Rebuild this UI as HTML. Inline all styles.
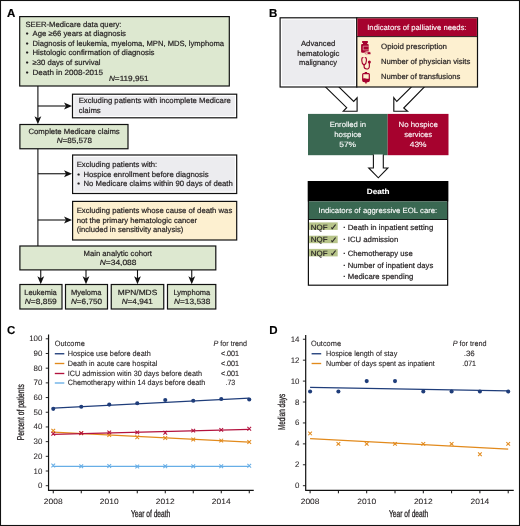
<!DOCTYPE html>
<html lang="en"><head><meta charset="utf-8"><title>Figure</title>
<style>
html,body{margin:0;padding:0;background:#fff;}
body{width:520px;height:526px;overflow:hidden;}
svg{display:block;font-family:"Liberation Sans",sans-serif;text-rendering:geometricPrecision;}
</style></head><body>
<svg width="520" height="526" viewBox="0 0 520 526">
<rect x="0.5" y="0.5" width="519" height="525" fill="#fff" stroke="#111" stroke-width="1.1"/>
<text x="6.90" y="17.00" font-size="11.5" fill="#000" stroke="#000" stroke-width="0.2" font-weight="bold">A</text>
<path d="M37.90 86.00V120.20" stroke="#111" stroke-width="1.1" fill="none"/>
<path d="M37.90 124.20L34.50 116.20L37.90 118.20L41.30 116.20Z" fill="#111"/>
<path d="M37.90 106.00H68.00" stroke="#111" stroke-width="1.1" fill="none"/>
<path d="M72.00 106.00L64.00 102.60L66.00 106.00L64.00 109.40Z" fill="#111"/>
<path d="M37.9 148.75V246" stroke="#111" stroke-width="1.1" fill="none"/>
<path d="M37.90 173.75H68.00" stroke="#111" stroke-width="1.1" fill="none"/>
<path d="M72.00 173.75L64.00 170.35L66.00 173.75L64.00 177.15Z" fill="#111"/>
<path d="M37.90 220.00H68.00" stroke="#111" stroke-width="1.1" fill="none"/>
<path d="M72.00 220.00L64.00 216.60L66.00 220.00L64.00 223.40Z" fill="#111"/>
<path d="M40.75 270.00V280.30" stroke="#111" stroke-width="1.1" fill="none"/>
<path d="M40.75 284.30L37.35 276.30L40.75 278.30L44.15 276.30Z" fill="#111"/>
<path d="M86.00 270.00V280.30" stroke="#111" stroke-width="1.1" fill="none"/>
<path d="M86.00 284.30L82.60 276.30L86.00 278.30L89.40 276.30Z" fill="#111"/>
<path d="M137.50 270.00V280.30" stroke="#111" stroke-width="1.1" fill="none"/>
<path d="M137.50 284.30L134.10 276.30L137.50 278.30L140.90 276.30Z" fill="#111"/>
<path d="M191.75 270.00V280.30" stroke="#111" stroke-width="1.1" fill="none"/>
<path d="M191.75 284.30L188.35 276.30L191.75 278.30L195.15 276.30Z" fill="#111"/>
<rect x="19.70" y="16.60" width="209.60" height="69.40" fill="#dde8d0" stroke="#111" stroke-width="1.2"/>
<text x="25.48" y="26.75" font-size="7.65" fill="#231f20" stroke="#231f20" stroke-width="0.2" textLength="96.04" lengthAdjust="spacingAndGlyphs">SEER-Medicare data query:</text>
<text x="25.75" y="36.25" font-size="7.65" fill="#231f20" stroke="#231f20" stroke-width="0.2">•</text>
<text x="32.48" y="36.25" font-size="7.65" fill="#231f20" stroke="#231f20" stroke-width="0.2" textLength="93.54" lengthAdjust="spacingAndGlyphs">Age ≥66 years at diagnosis</text>
<text x="25.75" y="45.75" font-size="7.65" fill="#231f20" stroke="#231f20" stroke-width="0.2">•</text>
<text x="32.48" y="45.75" font-size="7.65" fill="#231f20" stroke="#231f20" stroke-width="0.2" textLength="191.54" lengthAdjust="spacingAndGlyphs">Diagnosis of leukemia, myeloma, MPN, MDS, lymphoma</text>
<text x="25.75" y="55.40" font-size="7.65" fill="#231f20" stroke="#231f20" stroke-width="0.2">•</text>
<text x="32.48" y="55.40" font-size="7.65" fill="#231f20" stroke="#231f20" stroke-width="0.2" textLength="122.04" lengthAdjust="spacingAndGlyphs">Histologic confirmation of diagnosis</text>
<text x="25.75" y="65.00" font-size="7.65" fill="#231f20" stroke="#231f20" stroke-width="0.2">•</text>
<text x="32.48" y="65.00" font-size="7.65" fill="#231f20" stroke="#231f20" stroke-width="0.2" textLength="68.04" lengthAdjust="spacingAndGlyphs">≥30 days of survival</text>
<text x="25.75" y="74.50" font-size="7.65" fill="#231f20" stroke="#231f20" stroke-width="0.2">•</text>
<text x="32.48" y="74.50" font-size="7.65" fill="#231f20" stroke="#231f20" stroke-width="0.2" textLength="70.54" lengthAdjust="spacingAndGlyphs">Death in 2008-2015</text>
<text x="108.98" y="81.25" font-size="7.65" fill="#231f20" stroke="#231f20" stroke-width="0.2" textLength="39.54" lengthAdjust="spacingAndGlyphs"><tspan font-style="italic">N</tspan>=119,951</text>
<rect x="72.50" y="94.20" width="164.20" height="23.60" fill="#fff" stroke="#111" stroke-width="1.2"/>
<rect x="74.40" y="96.10" width="160.40" height="19.80" fill="#ececef"/>
<text x="78.73" y="103.25" font-size="7.65" fill="#231f20" stroke="#231f20" stroke-width="0.2" textLength="152.04" lengthAdjust="spacingAndGlyphs">Excluding patients with incomplete Medicare</text>
<text x="78.73" y="112.60" font-size="7.65" fill="#231f20" stroke="#231f20" stroke-width="0.2" textLength="22.04" lengthAdjust="spacingAndGlyphs">claims</text>
<rect x="19.90" y="124.50" width="108.10" height="24.25" fill="#dde8d0" stroke="#111" stroke-width="1.2"/>
<text x="28.48" y="134.20" font-size="7.65" fill="#231f20" stroke="#231f20" stroke-width="0.2" textLength="91.29" lengthAdjust="spacingAndGlyphs">Complete Medicare claims</text>
<text x="56.73" y="143.40" font-size="7.65" fill="#231f20" stroke="#231f20" stroke-width="0.2" textLength="35.29" lengthAdjust="spacingAndGlyphs"><tspan font-style="italic">N</tspan>=85,578</text>
<rect x="72.60" y="155.00" width="164.10" height="38.50" fill="#fff" stroke="#111" stroke-width="1.2"/>
<rect x="74.50" y="156.90" width="160.30" height="34.70" fill="#ececef"/>
<text x="76.73" y="166.75" font-size="7.65" fill="#231f20" stroke="#231f20" stroke-width="0.2" textLength="80.54" lengthAdjust="spacingAndGlyphs">Excluding patients with:</text>
<text x="77.30" y="176.60" font-size="7.65" fill="#231f20" stroke="#231f20" stroke-width="0.2">•</text>
<text x="83.48" y="176.60" font-size="7.65" fill="#231f20" stroke="#231f20" stroke-width="0.2" textLength="125.04" lengthAdjust="spacingAndGlyphs">Hospice enrollment before diagnosis</text>
<text x="77.30" y="186.00" font-size="7.65" fill="#231f20" stroke="#231f20" stroke-width="0.2">•</text>
<text x="83.48" y="186.00" font-size="7.65" fill="#231f20" stroke="#231f20" stroke-width="0.2" textLength="149.29" lengthAdjust="spacingAndGlyphs">No Medicare claims within 90 days of death</text>
<rect x="72.60" y="201.40" width="164.10" height="38.60" fill="#fdf0d0" stroke="#111" stroke-width="1.2"/>
<text x="76.73" y="213.25" font-size="7.65" fill="#231f20" stroke="#231f20" stroke-width="0.2" textLength="155.54" lengthAdjust="spacingAndGlyphs">Excluding patients whose cause of death was</text>
<text x="76.73" y="222.60" font-size="7.65" fill="#231f20" stroke="#231f20" stroke-width="0.2" textLength="120.29" lengthAdjust="spacingAndGlyphs">not the primary hematologic cancer</text>
<text x="76.73" y="232.30" font-size="7.65" fill="#231f20" stroke="#231f20" stroke-width="0.2" textLength="106.54" lengthAdjust="spacingAndGlyphs">(included in sensitivity analysis)</text>
<rect x="19.90" y="246.00" width="195.90" height="23.90" fill="#dde8d0" stroke="#111" stroke-width="1.2"/>
<text x="83.48" y="255.50" font-size="7.65" fill="#231f20" stroke="#231f20" stroke-width="0.2" textLength="68.54" lengthAdjust="spacingAndGlyphs">Main analytic cohort</text>
<text x="99.73" y="265.00" font-size="7.65" fill="#231f20" stroke="#231f20" stroke-width="0.2" textLength="36.79" lengthAdjust="spacingAndGlyphs"><tspan font-style="italic">N</tspan>=34,088</text>
<rect x="19.90" y="284.50" width="42.10" height="24.50" fill="#dde8d0" stroke="#111" stroke-width="1.2"/>
<text x="24.23" y="294.60" font-size="7.65" fill="#231f20" stroke="#231f20" stroke-width="0.2" textLength="32.54" lengthAdjust="spacingAndGlyphs">Leukemia</text>
<text x="24.73" y="304.00" font-size="7.65" fill="#231f20" stroke="#231f20" stroke-width="0.2" textLength="32.04" lengthAdjust="spacingAndGlyphs"><tspan font-style="italic">N</tspan>=8,859</text>
<rect x="65.50" y="284.50" width="42.00" height="24.50" fill="#dde8d0" stroke="#111" stroke-width="1.2"/>
<text x="70.98" y="294.60" font-size="7.65" fill="#231f20" stroke="#231f20" stroke-width="0.2" textLength="30.54" lengthAdjust="spacingAndGlyphs">Myeloma</text>
<text x="70.98" y="304.00" font-size="7.65" fill="#231f20" stroke="#231f20" stroke-width="0.2" textLength="31.04" lengthAdjust="spacingAndGlyphs"><tspan font-style="italic">N</tspan>=6,750</text>
<rect x="111.25" y="284.50" width="52.50" height="24.50" fill="#dde8d0" stroke="#111" stroke-width="1.2"/>
<text x="117.73" y="294.60" font-size="7.65" fill="#231f20" stroke="#231f20" stroke-width="0.2" textLength="39.54" lengthAdjust="spacingAndGlyphs">MPN/MDS</text>
<text x="121.73" y="304.00" font-size="7.65" fill="#231f20" stroke="#231f20" stroke-width="0.2" textLength="31.04" lengthAdjust="spacingAndGlyphs"><tspan font-style="italic">N</tspan>=4,941</text>
<rect x="167.50" y="284.50" width="48.30" height="24.50" fill="#dde8d0" stroke="#111" stroke-width="1.2"/>
<text x="173.48" y="294.60" font-size="7.65" fill="#231f20" stroke="#231f20" stroke-width="0.2" textLength="36.79" lengthAdjust="spacingAndGlyphs">Lymphoma</text>
<text x="173.98" y="304.00" font-size="7.65" fill="#231f20" stroke="#231f20" stroke-width="0.2" textLength="36.29" lengthAdjust="spacingAndGlyphs"><tspan font-style="italic">N</tspan>=13,538</text>
<text x="269.10" y="17.00" font-size="11.5" fill="#000" stroke="#000" stroke-width="0.2" font-weight="bold">B</text>
<path d="M324.4 85.8L346.7 107.7L343.3 111.2H357.1V97.8L353.7 101.4L337.8 85.8" fill="#fff" stroke="#111" stroke-width="1.15" stroke-linejoin="miter"/>
<path d="M425.65 85.6L403.75 108L407.5 111.2H393.8V97.7L396.8 101.5L412.7 85.6" fill="#fff" stroke="#111" stroke-width="1.15" stroke-linejoin="miter"/>
<rect x="280.10" y="17.80" width="76.70" height="69.20" fill="#fff" stroke="#111" stroke-width="1.2"/>
<rect x="282.00" y="19.70" width="72.90" height="65.40" fill="#ececef"/>
<text x="300.98" y="46.00" font-size="7.65" fill="#231f20" stroke="#231f20" stroke-width="0.2" textLength="34.29" lengthAdjust="spacingAndGlyphs">Advanced</text>
<text x="297.23" y="55.50" font-size="7.65" fill="#231f20" stroke="#231f20" stroke-width="0.2" textLength="42.29" lengthAdjust="spacingAndGlyphs">hematologic</text>
<text x="298.98" y="65.00" font-size="7.65" fill="#231f20" stroke="#231f20" stroke-width="0.2" textLength="38.04" lengthAdjust="spacingAndGlyphs">malignancy</text>
<rect x="356.80" y="17.80" width="120.70" height="69.20" fill="#fdf0d0" stroke="#111" stroke-width="1.2"/>
<rect x="357.4" y="18.4" width="119.5" height="17.9" fill="#a6022e"/>
<path d="M356.8 36.6H477.5" stroke="#111" stroke-width="0.9"/>
<text x="367.23" y="29.50" font-size="7.65" fill="#fff" stroke="#fff" stroke-width="0.1" textLength="99.29" lengthAdjust="spacingAndGlyphs">Indicators of palliative needs:</text>
<text x="380.98" y="49.30" font-size="7.65" fill="#231f20" stroke="#231f20" stroke-width="0.2" textLength="66.04" lengthAdjust="spacingAndGlyphs">Opioid prescription</text>
<text x="380.98" y="64.20" font-size="7.65" fill="#231f20" stroke="#231f20" stroke-width="0.2" textLength="89.29" lengthAdjust="spacingAndGlyphs">Number of physician visits</text>
<text x="380.98" y="78.80" font-size="7.65" fill="#231f20" stroke="#231f20" stroke-width="0.2" textLength="79.29" lengthAdjust="spacingAndGlyphs">Number of transfusions</text>
<g fill="#a6022e" stroke="none">
<rect x="362.1" y="40.9" width="5.8" height="2" rx="0.4"/>
<rect x="363" y="42.8" width="4.2" height="1.4"/>
<rect x="361.1" y="43.9" width="7.6" height="8.9" rx="1.1"/>
<path d="M368.7 46.2H363.2V49.9H368.7" fill="none" stroke="#f0c8b8" stroke-width="0.6"/>
<rect x="364.9" y="51.7" width="6.1" height="2.9" rx="1.45" stroke="#fdf0d0" stroke-width="0.7"/>
<path d="M367.6 52.2h-1.2a0.95 0.95 0 0 0 0 1.9h1.2z" fill="#f0c8b8"/>
</g>
<g fill="none" stroke="#a6022e" stroke-width="1.15" stroke-linecap="round">
<path d="M363 57.6q-1.2 0-1.2 1.3v1.8q0 3 2.3 4.4q2.3-1.4 2.3-4.4v-1.8q0-1.3-1.2-1.3"/>
<path d="M364.1 65v1.6a2.62 2.4 0 0 0 5.25 0v-3.4"/>
<circle cx="369.35" cy="62.1" r="1.5" fill="#a6022e" stroke="none"/>
</g>
<g fill="#a6022e">
<rect x="364.7" y="72" width="2.4" height="1.6"/>
<rect x="365.2" y="81.8" width="1.5" height="1.7"/>
<path d="M363.4 73.7h5.2a.7 .7 0 0 1 .7 .7v5.6a1.7 1.7 0 0 1-1.7 1.7h-3.2a1.7 1.7 0 0 1-1.7-1.7v-5.6a.7 .7 0 0 1 .7-.7z" fill="#fdf0d0" stroke="#a6022e" stroke-width="1.2"/>
<path d="M362.7 78.4q1.6-0.5 3.3 0t3.3 0v2.2q0 1.1-1.1 1.1h-4.4q-1.1 0-1.1-1.1z"/>
</g>
<rect x="308" y="113.9" width="79.7" height="41.3" fill="#3a6852"/>
<rect x="387.7" y="113.9" width="60.8" height="41.3" fill="#a6022e"/>
<text x="329.73" y="127.00" font-size="7.65" fill="#fff" stroke="#fff" stroke-width="0.1" textLength="36.29" lengthAdjust="spacingAndGlyphs">Enrolled in</text>
<text x="334.23" y="136.75" font-size="7.65" fill="#fff" stroke="#fff" stroke-width="0.1" textLength="27.29" lengthAdjust="spacingAndGlyphs">hospice</text>
<text x="339.23" y="146.50" font-size="7.65" fill="#fff" stroke="#fff" stroke-width="0.1" textLength="16.79" lengthAdjust="spacingAndGlyphs">57%</text>
<text x="398.48" y="127.00" font-size="7.65" fill="#fff" stroke="#fff" stroke-width="0.1" textLength="39.29" lengthAdjust="spacingAndGlyphs">No hospice</text>
<text x="404.23" y="136.75" font-size="7.65" fill="#fff" stroke="#fff" stroke-width="0.1" textLength="27.79" lengthAdjust="spacingAndGlyphs">services</text>
<text x="409.73" y="146.50" font-size="7.65" fill="#fff" stroke="#fff" stroke-width="0.1" textLength="16.79" lengthAdjust="spacingAndGlyphs">43%</text>
<path d="M373.4 154.6V168H368.7L378.3 177.8L387.9 168H383.3V154.6" fill="#fff" stroke="#111" stroke-width="1.1"/>
<rect x="308.40" y="181.60" width="139.25" height="103.60" fill="#fff" stroke="#111" stroke-width="1.2"/>
<rect x="307.85" y="181" width="140.35" height="20.4" fill="#000"/>
<rect x="308.9" y="201.4" width="138.2" height="17.7" fill="#3a6852"/>
<path d="M308.4 219.5H447.65" stroke="#111" stroke-width="1.1"/>
<text x="366.73" y="193.75" font-size="7.65" fill="#fff" stroke="#fff" stroke-width="0.1" font-weight="bold" textLength="22.79" lengthAdjust="spacingAndGlyphs">Death</text>
<text x="318.48" y="213.00" font-size="7.65" fill="#fff" stroke="#fff" stroke-width="0.1" textLength="118.79" lengthAdjust="spacingAndGlyphs">Indicators of aggressive EOL care:</text>
<rect x="309" y="222.4" width="28.7" height="7.5" fill="#b7c48a"/>
<text x="310.83" y="229.60" font-size="7.65" fill="#231f20" stroke="#231f20" stroke-width="0.2" textLength="16.74" lengthAdjust="spacingAndGlyphs">NQF</text>
<text x="330.10" y="229.90" font-size="8.6" fill="#231f20" stroke="#231f20" stroke-width="0.2" textLength="7.40" lengthAdjust="spacingAndGlyphs">✓</text>
<text x="343.30" y="229.60" font-size="7.65" fill="#231f20" stroke="#231f20" stroke-width="0.2" font-weight="bold">·</text>
<text x="347.73" y="229.60" font-size="7.65" fill="#231f20" stroke="#231f20" stroke-width="0.2" textLength="85.54" lengthAdjust="spacingAndGlyphs">Death in inpatient setting</text>
<rect x="309" y="235.7" width="28.7" height="7.5" fill="#b7c48a"/>
<text x="310.83" y="242.40" font-size="7.65" fill="#231f20" stroke="#231f20" stroke-width="0.2" textLength="16.74" lengthAdjust="spacingAndGlyphs">NQF</text>
<text x="330.10" y="242.70" font-size="8.6" fill="#231f20" stroke="#231f20" stroke-width="0.2" textLength="7.40" lengthAdjust="spacingAndGlyphs">✓</text>
<text x="343.30" y="242.40" font-size="7.65" fill="#231f20" stroke="#231f20" stroke-width="0.2" font-weight="bold">·</text>
<text x="347.73" y="242.40" font-size="7.65" fill="#231f20" stroke="#231f20" stroke-width="0.2" textLength="50.54" lengthAdjust="spacingAndGlyphs">ICU admission</text>
<rect x="309" y="248.9" width="28.7" height="7.5" fill="#b7c48a"/>
<text x="310.83" y="255.60" font-size="7.65" fill="#231f20" stroke="#231f20" stroke-width="0.2" textLength="16.74" lengthAdjust="spacingAndGlyphs">NQF</text>
<text x="330.10" y="255.90" font-size="8.6" fill="#231f20" stroke="#231f20" stroke-width="0.2" textLength="7.40" lengthAdjust="spacingAndGlyphs">✓</text>
<text x="343.30" y="255.60" font-size="7.65" fill="#231f20" stroke="#231f20" stroke-width="0.2" font-weight="bold">·</text>
<text x="347.73" y="255.60" font-size="7.65" fill="#231f20" stroke="#231f20" stroke-width="0.2" textLength="65.04" lengthAdjust="spacingAndGlyphs">Chemotherapy use</text>
<text x="343.30" y="267.60" font-size="7.65" fill="#231f20" stroke="#231f20" stroke-width="0.2" font-weight="bold">·</text>
<text x="347.73" y="267.60" font-size="7.65" fill="#231f20" stroke="#231f20" stroke-width="0.2" textLength="85.54" lengthAdjust="spacingAndGlyphs">Number of inpatient days</text>
<text x="343.30" y="279.40" font-size="7.65" fill="#231f20" stroke="#231f20" stroke-width="0.2" font-weight="bold">·</text>
<text x="347.73" y="279.40" font-size="7.65" fill="#231f20" stroke="#231f20" stroke-width="0.2" textLength="65.54" lengthAdjust="spacingAndGlyphs">Medicare spending</text>
<text x="6.90" y="334.00" font-size="11.5" fill="#000" stroke="#000" stroke-width="0.1" font-weight="bold">C</text>
<path d="M48.55 334.50V490.4H253.75" stroke="#111" stroke-width="1.2" fill="none"/>
<path d="M45.75 485.70H48.55" stroke="#111" stroke-width="0.9"/>
<text x="42.35" y="488.20" font-size="7.9" fill="#231f20" stroke="#231f20" stroke-width="0.06" text-anchor="end">0</text>
<path d="M45.75 471.01H48.55" stroke="#111" stroke-width="0.9"/>
<text x="42.35" y="473.51" font-size="7.9" fill="#231f20" stroke="#231f20" stroke-width="0.06" text-anchor="end">10</text>
<path d="M45.75 456.32H48.55" stroke="#111" stroke-width="0.9"/>
<text x="42.35" y="458.82" font-size="7.9" fill="#231f20" stroke="#231f20" stroke-width="0.06" text-anchor="end">20</text>
<path d="M45.75 441.63H48.55" stroke="#111" stroke-width="0.9"/>
<text x="42.35" y="444.13" font-size="7.9" fill="#231f20" stroke="#231f20" stroke-width="0.06" text-anchor="end">30</text>
<path d="M45.75 426.94H48.55" stroke="#111" stroke-width="0.9"/>
<text x="42.35" y="429.44" font-size="7.9" fill="#231f20" stroke="#231f20" stroke-width="0.06" text-anchor="end">40</text>
<path d="M45.75 412.25H48.55" stroke="#111" stroke-width="0.9"/>
<text x="42.35" y="414.75" font-size="7.9" fill="#231f20" stroke="#231f20" stroke-width="0.06" text-anchor="end">50</text>
<path d="M45.75 397.56H48.55" stroke="#111" stroke-width="0.9"/>
<text x="42.35" y="400.06" font-size="7.9" fill="#231f20" stroke="#231f20" stroke-width="0.06" text-anchor="end">60</text>
<path d="M45.75 382.87H48.55" stroke="#111" stroke-width="0.9"/>
<text x="42.35" y="385.37" font-size="7.9" fill="#231f20" stroke="#231f20" stroke-width="0.06" text-anchor="end">70</text>
<path d="M45.75 368.18H48.55" stroke="#111" stroke-width="0.9"/>
<text x="42.35" y="370.68" font-size="7.9" fill="#231f20" stroke="#231f20" stroke-width="0.06" text-anchor="end">80</text>
<path d="M45.75 353.49H48.55" stroke="#111" stroke-width="0.9"/>
<text x="42.35" y="355.99" font-size="7.9" fill="#231f20" stroke="#231f20" stroke-width="0.06" text-anchor="end">90</text>
<path d="M45.75 338.80H48.55" stroke="#111" stroke-width="0.9"/>
<text x="42.35" y="341.30" font-size="7.9" fill="#231f20" stroke="#231f20" stroke-width="0.06" text-anchor="end">100</text>
<path d="M53.25 490.4V493.3" stroke="#111" stroke-width="1"/>
<text x="43.88" y="503.80" font-size="7.8" fill="#231f20" stroke="#231f20" stroke-width="0.06" textLength="18.75" lengthAdjust="spacingAndGlyphs">2008</text>
<path d="M81.25 490.4V493.3" stroke="#111" stroke-width="1"/>
<path d="M109.25 490.4V493.3" stroke="#111" stroke-width="1"/>
<text x="99.88" y="503.80" font-size="7.8" fill="#231f20" stroke="#231f20" stroke-width="0.06" textLength="18.75" lengthAdjust="spacingAndGlyphs">2010</text>
<path d="M137.25 490.4V493.3" stroke="#111" stroke-width="1"/>
<path d="M165.25 490.4V493.3" stroke="#111" stroke-width="1"/>
<text x="155.88" y="503.80" font-size="7.8" fill="#231f20" stroke="#231f20" stroke-width="0.06" textLength="18.75" lengthAdjust="spacingAndGlyphs">2012</text>
<path d="M193.25 490.4V493.3" stroke="#111" stroke-width="1"/>
<path d="M221.25 490.4V493.3" stroke="#111" stroke-width="1"/>
<text x="211.88" y="503.80" font-size="7.8" fill="#231f20" stroke="#231f20" stroke-width="0.06" textLength="18.75" lengthAdjust="spacingAndGlyphs">2014</text>
<path d="M249.25 490.4V493.3" stroke="#111" stroke-width="1"/>
<path d="M53.25 466.38L249.25 466.38" stroke="#67aee6" stroke-width="1.05" fill="none"/>
<path d="M51.40 463.58L55.10 467.28M51.40 467.28L55.10 463.58" stroke="#67aee6" stroke-width="1.05" fill="none"/>
<path d="M79.40 464.46L83.10 468.16M79.40 468.16L83.10 464.46" stroke="#67aee6" stroke-width="1.05" fill="none"/>
<path d="M107.40 464.17L111.10 467.87M107.40 467.87L111.10 464.17" stroke="#67aee6" stroke-width="1.05" fill="none"/>
<path d="M135.40 464.61L139.10 468.31M135.40 468.31L139.10 464.61" stroke="#67aee6" stroke-width="1.05" fill="none"/>
<path d="M163.40 464.46L167.10 468.16M163.40 468.16L167.10 464.46" stroke="#67aee6" stroke-width="1.05" fill="none"/>
<path d="M191.40 464.31L195.10 468.01M191.40 468.01L195.10 464.31" stroke="#67aee6" stroke-width="1.05" fill="none"/>
<path d="M219.40 464.31L223.10 468.01M219.40 468.01L223.10 464.31" stroke="#67aee6" stroke-width="1.05" fill="none"/>
<path d="M247.40 463.87L251.10 467.57M247.40 467.57L251.10 463.87" stroke="#67aee6" stroke-width="1.05" fill="none"/>
<path d="M53.25 432.08L249.25 442.07" stroke="#e28a1c" stroke-width="1.2" fill="none"/>
<path d="M51.40 428.76L55.10 432.46M51.40 432.46L55.10 428.76" stroke="#e28a1c" stroke-width="1.05" fill="none"/>
<path d="M79.40 431.41L83.10 435.11M79.40 435.11L83.10 431.41" stroke="#e28a1c" stroke-width="1.05" fill="none"/>
<path d="M107.40 433.17L111.10 436.87M107.40 436.87L111.10 433.17" stroke="#e28a1c" stroke-width="1.05" fill="none"/>
<path d="M135.40 435.37L139.10 439.07M135.40 439.07L139.10 435.37" stroke="#e28a1c" stroke-width="1.05" fill="none"/>
<path d="M163.40 436.11L167.10 439.81M163.40 439.81L167.10 436.11" stroke="#e28a1c" stroke-width="1.05" fill="none"/>
<path d="M191.40 437.58L195.10 441.28M191.40 441.28L195.10 437.58" stroke="#e28a1c" stroke-width="1.05" fill="none"/>
<path d="M219.40 438.75L223.10 442.45M219.40 442.45L223.10 438.75" stroke="#e28a1c" stroke-width="1.05" fill="none"/>
<path d="M247.40 440.22L251.10 443.92M247.40 443.92L251.10 440.22" stroke="#e28a1c" stroke-width="1.05" fill="none"/>
<path d="M53.25 434.28L249.25 429.29" stroke="#b3123e" stroke-width="1.2" fill="none"/>
<path d="M51.40 431.99L55.10 435.69M51.40 435.69L55.10 431.99" stroke="#b3123e" stroke-width="1.05" fill="none"/>
<path d="M79.40 431.26L83.10 434.96M79.40 434.96L83.10 431.26" stroke="#b3123e" stroke-width="1.05" fill="none"/>
<path d="M107.40 430.53L111.10 434.23M107.40 434.23L111.10 430.53" stroke="#b3123e" stroke-width="1.05" fill="none"/>
<path d="M135.40 430.53L139.10 434.23M135.40 434.23L139.10 430.53" stroke="#b3123e" stroke-width="1.05" fill="none"/>
<path d="M163.40 430.97L167.10 434.67M163.40 434.67L167.10 430.97" stroke="#b3123e" stroke-width="1.05" fill="none"/>
<path d="M191.40 428.76L195.10 432.46M191.40 432.46L195.10 428.76" stroke="#b3123e" stroke-width="1.05" fill="none"/>
<path d="M219.40 428.03L223.10 431.73M219.40 431.73L223.10 428.03" stroke="#b3123e" stroke-width="1.05" fill="none"/>
<path d="M247.40 426.85L251.10 430.55M247.40 430.55L251.10 426.85" stroke="#b3123e" stroke-width="1.05" fill="none"/>
<path d="M53.25 408.14L249.25 398.15" stroke="#1f3d7a" stroke-width="1.2" fill="none"/>
<circle cx="53.25" cy="408.87" r="2.05" fill="#1f3d7a"/>
<circle cx="81.25" cy="406.81" r="2.05" fill="#1f3d7a"/>
<circle cx="109.25" cy="404.61" r="2.05" fill="#1f3d7a"/>
<circle cx="137.25" cy="403.29" r="2.05" fill="#1f3d7a"/>
<circle cx="165.25" cy="400.06" r="2.05" fill="#1f3d7a"/>
<circle cx="193.25" cy="400.79" r="2.05" fill="#1f3d7a"/>
<circle cx="221.25" cy="399.03" r="2.05" fill="#1f3d7a"/>
<circle cx="249.25" cy="399.47" r="2.05" fill="#1f3d7a"/>
<text x="54.73" y="346.25" font-size="7.65" fill="#231f20" stroke="#231f20" stroke-width="0.1" textLength="30.04" lengthAdjust="spacingAndGlyphs">Outcome</text>
<text x="213.48" y="346.25" font-size="7.65" fill="#231f20" stroke="#231f20" stroke-width="0.1" textLength="33.54" lengthAdjust="spacingAndGlyphs"><tspan font-style="italic">P</tspan> for trend</text>
<path d="M54.80 353.75L64.30 353.75" stroke="#1f3d7a" stroke-width="1.35" fill="none"/>
<text x="67.73" y="355.75" font-size="7.65" fill="#231f20" stroke="#231f20" stroke-width="0.1" textLength="83.04" lengthAdjust="spacingAndGlyphs">Hospice use before death</text>
<text x="220.98" y="355.75" font-size="7.65" fill="#231f20" stroke="#231f20" stroke-width="0.1" textLength="18.04" lengthAdjust="spacingAndGlyphs">&lt;.001</text>
<path d="M54.80 363.50L64.30 363.50" stroke="#e28a1c" stroke-width="1.35" fill="none"/>
<text x="67.73" y="365.50" font-size="7.65" fill="#231f20" stroke="#231f20" stroke-width="0.1" textLength="89.54" lengthAdjust="spacingAndGlyphs">Death in acute care hospital</text>
<text x="220.98" y="365.50" font-size="7.65" fill="#231f20" stroke="#231f20" stroke-width="0.1" textLength="18.04" lengthAdjust="spacingAndGlyphs">&lt;.001</text>
<path d="M54.80 373.50L64.30 373.50" stroke="#b3123e" stroke-width="1.35" fill="none"/>
<text x="67.73" y="375.50" font-size="7.65" fill="#231f20" stroke="#231f20" stroke-width="0.1" textLength="134.29" lengthAdjust="spacingAndGlyphs">ICU admission witin 30 days before death</text>
<text x="220.98" y="375.50" font-size="7.65" fill="#231f20" stroke="#231f20" stroke-width="0.1" textLength="18.04" lengthAdjust="spacingAndGlyphs">&lt;.001</text>
<path d="M54.80 383.00L64.30 383.00" stroke="#67aee6" stroke-width="1.35" fill="none"/>
<text x="67.73" y="385.00" font-size="7.65" fill="#231f20" stroke="#231f20" stroke-width="0.1" textLength="137.54" lengthAdjust="spacingAndGlyphs">Chemotherapy within 14 days before death</text>
<text x="225.48" y="385.00" font-size="7.65" fill="#231f20" stroke="#231f20" stroke-width="0.1" textLength="9.79" lengthAdjust="spacingAndGlyphs">.73</text>
<text transform="translate(24,412.25) rotate(-90)" font-size="10" fill="#231f20" stroke="#231f20" stroke-width="0.3" text-anchor="middle" textLength="56" lengthAdjust="spacingAndGlyphs">Percent of patients</text>
<text x="131" y="516.7" font-size="10" fill="#231f20" stroke="#231f20" stroke-width="0.3" textLength="39.3" lengthAdjust="spacingAndGlyphs">Year of death</text>
<text x="269.20" y="334.00" font-size="11.5" fill="#000" stroke="#000" stroke-width="0.1" font-weight="bold">D</text>
<path d="M305.7 334.96V490.4H513.75" stroke="#111" stroke-width="1.2" fill="none"/>
<path d="M302.90 485.70H305.7" stroke="#111" stroke-width="0.9"/>
<text x="299.50" y="488.20" font-size="7.9" fill="#231f20" stroke="#231f20" stroke-width="0.06" text-anchor="end">0</text>
<path d="M302.90 464.78H305.7" stroke="#111" stroke-width="0.9"/>
<text x="299.50" y="467.28" font-size="7.9" fill="#231f20" stroke="#231f20" stroke-width="0.06" text-anchor="end">2</text>
<path d="M302.90 443.86H305.7" stroke="#111" stroke-width="0.9"/>
<text x="299.50" y="446.36" font-size="7.9" fill="#231f20" stroke="#231f20" stroke-width="0.06" text-anchor="end">4</text>
<path d="M302.90 422.94H305.7" stroke="#111" stroke-width="0.9"/>
<text x="299.50" y="425.44" font-size="7.9" fill="#231f20" stroke="#231f20" stroke-width="0.06" text-anchor="end">6</text>
<path d="M302.90 402.02H305.7" stroke="#111" stroke-width="0.9"/>
<text x="299.50" y="404.52" font-size="7.9" fill="#231f20" stroke="#231f20" stroke-width="0.06" text-anchor="end">8</text>
<path d="M302.90 381.10H305.7" stroke="#111" stroke-width="0.9"/>
<text x="299.50" y="383.60" font-size="7.9" fill="#231f20" stroke="#231f20" stroke-width="0.06" text-anchor="end">10</text>
<path d="M302.90 360.18H305.7" stroke="#111" stroke-width="0.9"/>
<text x="299.50" y="362.68" font-size="7.9" fill="#231f20" stroke="#231f20" stroke-width="0.06" text-anchor="end">12</text>
<path d="M302.90 339.26H305.7" stroke="#111" stroke-width="0.9"/>
<text x="299.50" y="341.76" font-size="7.9" fill="#231f20" stroke="#231f20" stroke-width="0.06" text-anchor="end">14</text>
<path d="M310.10 490.4V493.3" stroke="#111" stroke-width="1"/>
<text x="300.73" y="503.80" font-size="7.8" fill="#231f20" stroke="#231f20" stroke-width="0.06" textLength="18.75" lengthAdjust="spacingAndGlyphs">2008</text>
<path d="M338.40 490.4V493.3" stroke="#111" stroke-width="1"/>
<path d="M366.70 490.4V493.3" stroke="#111" stroke-width="1"/>
<text x="357.33" y="503.80" font-size="7.8" fill="#231f20" stroke="#231f20" stroke-width="0.06" textLength="18.75" lengthAdjust="spacingAndGlyphs">2010</text>
<path d="M395.00 490.4V493.3" stroke="#111" stroke-width="1"/>
<path d="M423.30 490.4V493.3" stroke="#111" stroke-width="1"/>
<text x="413.93" y="503.80" font-size="7.8" fill="#231f20" stroke="#231f20" stroke-width="0.06" textLength="18.75" lengthAdjust="spacingAndGlyphs">2012</text>
<path d="M451.60 490.4V493.3" stroke="#111" stroke-width="1"/>
<path d="M479.90 490.4V493.3" stroke="#111" stroke-width="1"/>
<text x="470.53" y="503.80" font-size="7.8" fill="#231f20" stroke="#231f20" stroke-width="0.06" textLength="18.75" lengthAdjust="spacingAndGlyphs">2014</text>
<path d="M508.20 490.4V493.3" stroke="#111" stroke-width="1"/>
<path d="M310.10 387.38L508.20 390.83" stroke="#1f3d7a" stroke-width="1.2" fill="none"/>
<circle cx="310.10" cy="391.56" r="2.05" fill="#1f3d7a"/>
<circle cx="338.40" cy="391.56" r="2.05" fill="#1f3d7a"/>
<circle cx="366.70" cy="381.10" r="2.05" fill="#1f3d7a"/>
<circle cx="395.00" cy="381.10" r="2.05" fill="#1f3d7a"/>
<circle cx="423.30" cy="391.56" r="2.05" fill="#1f3d7a"/>
<circle cx="451.60" cy="391.56" r="2.05" fill="#1f3d7a"/>
<circle cx="479.90" cy="391.56" r="2.05" fill="#1f3d7a"/>
<circle cx="508.20" cy="391.56" r="2.05" fill="#1f3d7a"/>
<path d="M310.10 438.63L508.20 449.09" stroke="#e28a1c" stroke-width="1.2" fill="none"/>
<path d="M308.25 431.55L311.95 435.25M308.25 435.25L311.95 431.55" stroke="#e28a1c" stroke-width="1.05" fill="none"/>
<path d="M336.55 442.01L340.25 445.71M336.55 445.71L340.25 442.01" stroke="#e28a1c" stroke-width="1.05" fill="none"/>
<path d="M364.85 442.01L368.55 445.71M364.85 445.71L368.55 442.01" stroke="#e28a1c" stroke-width="1.05" fill="none"/>
<path d="M393.15 442.01L396.85 445.71M393.15 445.71L396.85 442.01" stroke="#e28a1c" stroke-width="1.05" fill="none"/>
<path d="M421.45 442.01L425.15 445.71M421.45 445.71L425.15 442.01" stroke="#e28a1c" stroke-width="1.05" fill="none"/>
<path d="M449.75 442.01L453.45 445.71M449.75 445.71L453.45 442.01" stroke="#e28a1c" stroke-width="1.05" fill="none"/>
<path d="M478.05 452.47L481.75 456.17M478.05 456.17L481.75 452.47" stroke="#e28a1c" stroke-width="1.05" fill="none"/>
<path d="M506.35 442.01L510.05 445.71M506.35 445.71L510.05 442.01" stroke="#e28a1c" stroke-width="1.05" fill="none"/>
<text x="310.98" y="346.25" font-size="7.65" fill="#231f20" stroke="#231f20" stroke-width="0.1" textLength="30.04" lengthAdjust="spacingAndGlyphs">Outcome</text>
<text x="452.73" y="346.25" font-size="7.65" fill="#231f20" stroke="#231f20" stroke-width="0.1" textLength="33.79" lengthAdjust="spacingAndGlyphs"><tspan font-style="italic">P</tspan> for trend</text>
<path d="M311.60 353.75L321.20 353.75" stroke="#1f3d7a" stroke-width="1.35" fill="none"/>
<text x="325.98" y="355.75" font-size="7.65" fill="#231f20" stroke="#231f20" stroke-width="0.1" textLength="71.29" lengthAdjust="spacingAndGlyphs">Hospice length of stay</text>
<text x="463.73" y="355.75" font-size="7.65" fill="#231f20" stroke="#231f20" stroke-width="0.1" textLength="11.04" lengthAdjust="spacingAndGlyphs">.36</text>
<path d="M311.60 363.50L321.20 363.50" stroke="#e28a1c" stroke-width="1.35" fill="none"/>
<text x="325.98" y="365.50" font-size="7.65" fill="#231f20" stroke="#231f20" stroke-width="0.1" textLength="108.79" lengthAdjust="spacingAndGlyphs">Number of days spent as inpatient</text>
<text x="462.23" y="365.50" font-size="7.65" fill="#231f20" stroke="#231f20" stroke-width="0.1" textLength="13.79" lengthAdjust="spacingAndGlyphs">.071</text>
<text transform="translate(284.8,412) rotate(-90)" font-size="10" fill="#231f20" stroke="#231f20" stroke-width="0.3" text-anchor="middle" textLength="36.2" lengthAdjust="spacingAndGlyphs">Median days</text>
<text x="389" y="516.7" font-size="10" fill="#231f20" stroke="#231f20" stroke-width="0.3" textLength="39.3" lengthAdjust="spacingAndGlyphs">Year of death</text>
</svg>
</body></html>
